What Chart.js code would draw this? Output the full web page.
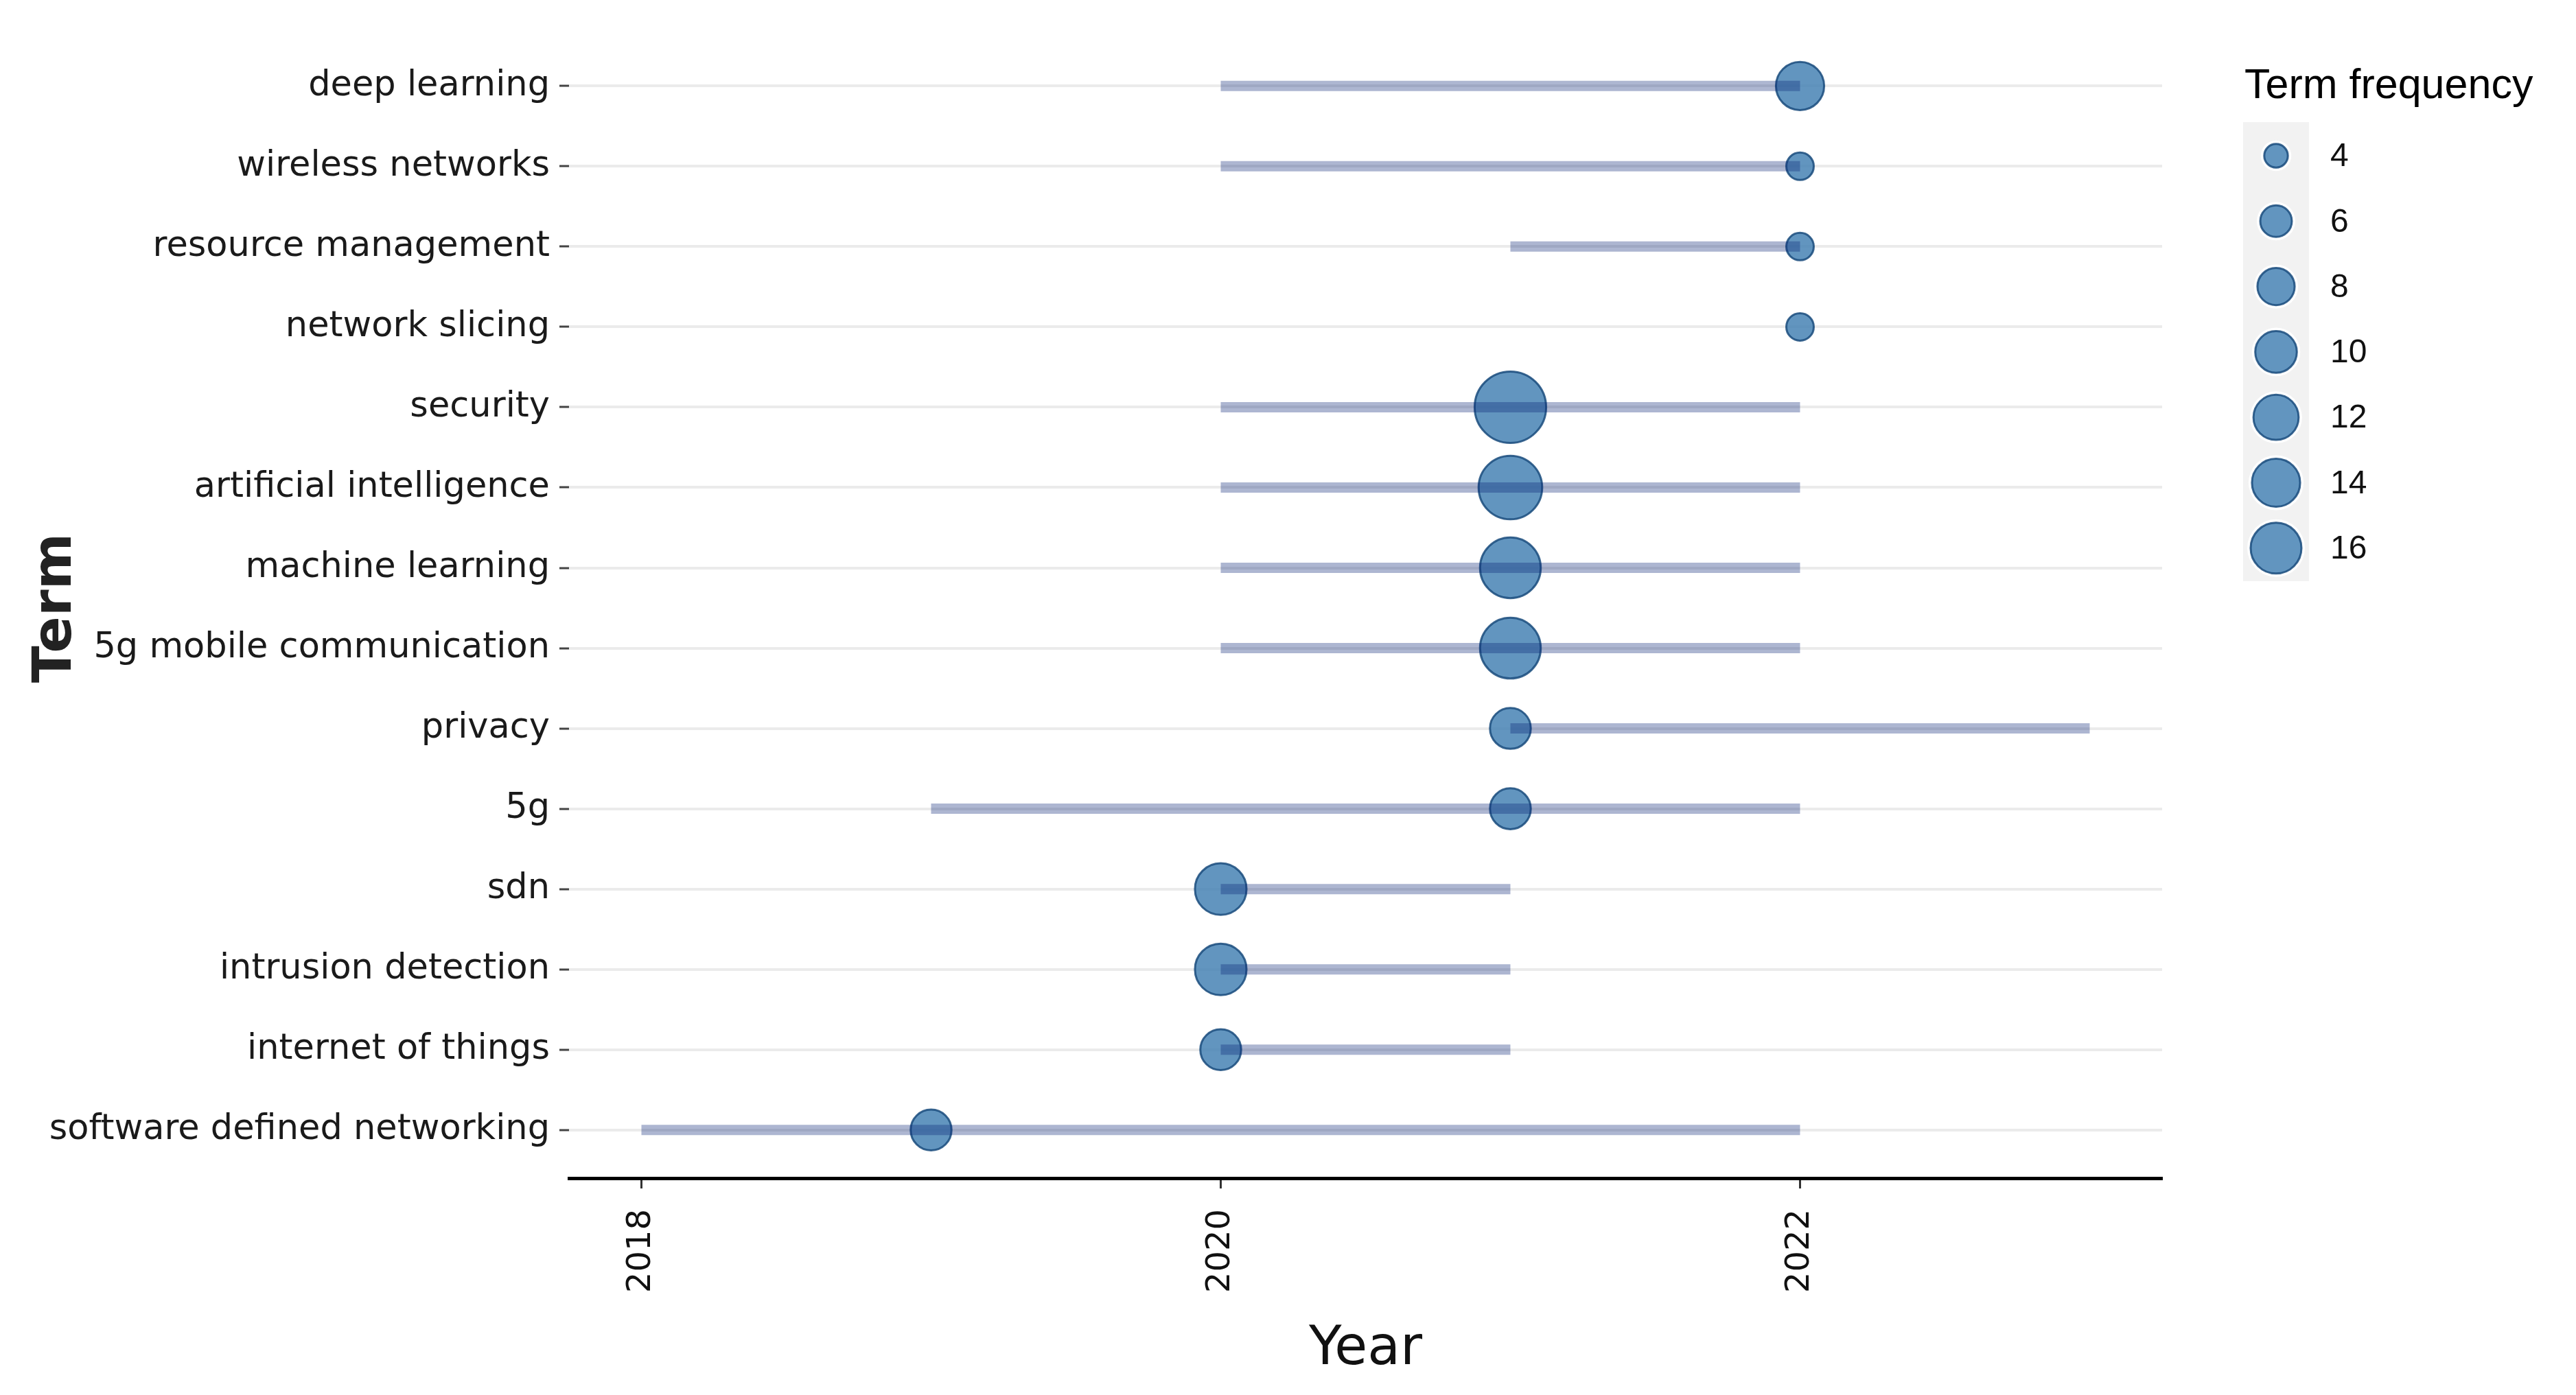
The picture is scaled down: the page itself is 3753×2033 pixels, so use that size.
<!DOCTYPE html>
<html>
<head>
<meta charset="utf-8">
<title>Trend topics</title>
<script src="https://cdn.jsdelivr.net/npm/chart.js@4.4.0/dist/chart.umd.min.js"></script>
<style>
    html, body { margin: 0; padding: 0; background: #ffffff; }
    #wrap { width: 3753px; height: 2033px; position: relative; }
</style>
</head>
<body>
<div id="wrap"><canvas id="trendChart"></canvas></div>
<script>
// terms, top to bottom
const terms = [
    'deep learning',
    'wireless networks',
    'resource management',
    'network slicing',
    'security',
    'artificial intelligence',
    'machine learning',
    '5g mobile communication',
    'privacy',
    '5g',
    'sdn',
    'intrusion detection',
    'internet of things',
    'software defined networking'
];
const yearStart  = [2020, 2020, 2021, 2022, 2020, 2020, 2020, 2020, 2021, 2019, 2020, 2020, 2020, 2018];
const yearMedian = [2022, 2022, 2022, 2022, 2021, 2021, 2021, 2021, 2021, 2021, 2020, 2020, 2020, 2019];
const yearEnd    = [2022, 2022, 2022, 2022, 2022, 2022, 2022, 2022, 2023, 2022, 2021, 2021, 2021, 2022];
const termFreq   = [9, 4, 4, 4, 17, 14, 13, 13, 7, 7, 10, 10, 7, 7];

const xTickYears = [2018, 2020, 2022];
const legendBreaks = [4, 6, 8, 10, 12, 14, 16];

const pointFill = 'rgba(70, 130, 180, 0.85)';
const pointBorder = 'rgba(25, 75, 125, 0.85)';
const barColor = 'rgba(5, 34, 114, 0.33)';

function freqToRadius(f) {
    return -10.2 + 15.1 * Math.sqrt(f);
}

function legendRadius(f) {
    return -2.57 + 14.27 * Math.log(f);
}

const segmentSets = terms.map((t, i) => ({
    type: 'line',
    label: t,
    data: [{ x: yearStart[i], y: i }, { x: yearEnd[i], y: i }],
    borderColor: barColor,
    borderWidth: 15,
    borderCapStyle: 'butt',
    pointRadius: 0,
    tension: 0,
    order: 1
}));

const bubbleSet = {
    type: 'bubble',
    label: 'Term frequency',
    data: terms.map((t, i) => ({ x: yearMedian[i], y: i, r: freqToRadius(termFreq[i]) })),
    backgroundColor: pointFill,
    borderColor: pointBorder,
    borderWidth: 3,
    order: 2
};

// size legend drawn by hand
const sizeLegend = {
    id: 'sizeLegend',
    afterDraw(chart) {
        const ctx = chart.ctx;
        ctx.save();
        ctx.fillStyle = '#000';
        ctx.font = '61px "Liberation Sans", Arial, sans-serif';
        ctx.textBaseline = 'alphabetic';
        ctx.textAlign = 'left';
        ctx.fillText('Term frequency', 3270, 143);

        ctx.fillStyle = '#f2f2f2';
        ctx.fillRect(3268, 178, 96, 669);

        const cx = 3316;
        legendBreaks.forEach((b, k) => {
            const cy = 227 + k * 95.3;
            const r = legendRadius(b);
            ctx.beginPath();
            ctx.arc(cx, cy, r + 5, 0, Math.PI * 2);
            ctx.fillStyle = '#ffffff';
            ctx.fill();
            ctx.beginPath();
            ctx.arc(cx, cy, r, 0, Math.PI * 2);
            ctx.fillStyle = pointFill;
            ctx.fill();
            ctx.lineWidth = 3;
            ctx.strokeStyle = pointBorder;
            ctx.stroke();

            ctx.fillStyle = '#111';
            ctx.font = '48px "Liberation Sans", Arial, sans-serif';
            ctx.textBaseline = 'middle';
            ctx.fillText(String(b), 3395, cy + 2);
        });
        ctx.restore();
    }
};

const ctx = document.getElementById('trendChart').getContext('2d');
const chart = new Chart(ctx, {
    type: 'bubble',
    data: { datasets: [...segmentSets, bubbleSet] },
    options: {
        responsive: true,
        maintainAspectRatio: false,
        devicePixelRatio: 1,
        animation: false,
        events: [],
        layout: { padding: { top: 42, right: 603, left: 0, bottom: 0 } },
        plugins: {
            legend: { display: false },
            tooltip: { enabled: false }
        },
        scales: {
            x: {
                type: 'linear',
                min: 2017.75,
                max: 2023.25,
                afterBuildTicks: scale => { scale.ticks = xTickYears.map(v => ({ value: v })); },
                afterFit: scale => { scale.height = 316; },
                grid: {
                    drawOnChartArea: false,
                    drawTicks: true,
                    tickLength: 15,
                    tickColor: '#333',
                    tickWidth: 3
                },
                border: { display: true, color: '#000', width: 5 },
                ticks: {
                    autoSkip: false,
                    minRotation: 90,
                    maxRotation: 90,
                    padding: 30,
                    color: '#111',
                    font: { family: 'DejaVu Sans', size: 48 },
                    callback: v => String(v)
                },
                title: {
                    display: true,
                    text: 'Year',
                    color: '#111',
                    font: { family: 'DejaVu Sans', size: 78 },
                    padding: { top: 0, bottom: 18 }
                }
            },
            y: {
                type: 'linear',
                reverse: true,
                min: -0.6,
                max: 13.6,
                afterBuildTicks: scale => { scale.ticks = terms.map((t, i) => ({ value: i })); },
                afterFit: scale => { scale.width = 829; },
                grid: {
                    color: '#ebebeb',
                    lineWidth: 4,
                    drawTicks: true,
                    tickLength: 14,
                    tickColor: '#444',
                    tickWidth: 3
                },
                border: { display: false },
                ticks: {
                    autoSkip: false,
                    padding: 14,
                    color: '#1a1a1a',
                    font: { family: 'DejaVu Sans', size: 51 },
                    callback: v => terms[v]
                },
                title: {
                    display: true,
                    text: 'Term',
                    color: '#222',
                    font: { family: 'DejaVu Sans', size: 79, weight: 'bold' },
                    padding: { top: 35, bottom: 0 }
                }
            }
        }
    },
    plugins: [sizeLegend]
});
</script>
</body>
</html>
